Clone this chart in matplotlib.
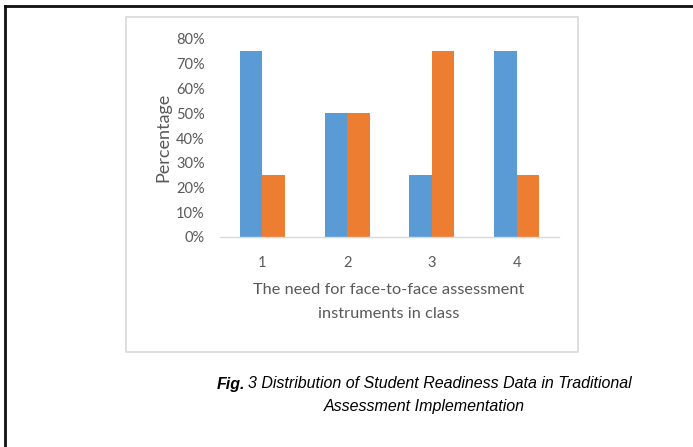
import matplotlib
matplotlib.use("Agg")
import matplotlib.pyplot as plt
from matplotlib.patches import Rectangle
from matplotlib.lines import Line2D
import numpy as np

categories = ["1", "2", "3", "4"]
series_blue = [0.75, 0.50, 0.25, 0.75]
series_orange = [0.25, 0.50, 0.75, 0.25]
yticks = [0, 0.1, 0.2, 0.3, 0.4, 0.5, 0.6, 0.7, 0.8]
ytick_labels = ["0%", "10%", "20%", "30%", "40%", "50%", "60%", "70%", "80%"]

W, H = 693, 447
fig = plt.figure(figsize=(W / 100, H / 100), dpi=100)
fig.patch.set_facecolor("white")

# inner chart box
fig.patches.append(Rectangle((126 / W, 1 - 352 / H), 452 / W, 335 / H,
                             transform=fig.transFigure, fill=False,
                             edgecolor="#d9d9d9", linewidth=1.2))
# outer frame lines
fig.lines.append(Line2D([4.5 / W, 4.5 / W], [0, 1 - 6 / H], transform=fig.transFigure,
                        color="#111111", linewidth=2.0))
fig.lines.append(Line2D([4.5 / W, 1], [1 - 6 / H, 1 - 6 / H], transform=fig.transFigure,
                        color="#111111", linewidth=2.0))

ax = fig.add_axes([220 / W, 1 - 237 / H, (559 - 220) / W, (237 - 39) / H])
x = np.arange(len(categories))
bw = 0.265
ax.bar(x - bw / 2, series_blue, width=bw, color="#5B9BD5")
ax.bar(x + bw / 2, series_orange, width=bw, color="#ED7D31")
ax.set_xlim(-0.5, 3.5)
ax.set_ylim(0, 0.8)
ax.set_yticks(yticks)
ax.set_yticklabels(ytick_labels)
ax.set_xticks(x)
ax.set_xticklabels(categories)
for s in ["top", "left", "right"]:
    ax.spines[s].set_visible(False)
ax.spines["bottom"].set_color("#d9d9d9")
ax.spines["bottom"].set_linewidth(1.0)
ax.tick_params(axis="both", length=0, labelcolor="#595959", labelsize=10.5)
ax.tick_params(axis="y", pad=11)
ax.tick_params(axis="x", pad=14)
for lab in ax.get_xticklabels() + ax.get_yticklabels():
    lab.set_fontfamily("Lato")

fig.text(163 / W, 1 - 137 / H, "Percentage", rotation=90, ha="center", va="center",
         color="#595959", fontsize=13, family="Lato")
fig.text(389 / W, 1 - 290 / H, "The need for face-to-face assessment", ha="center", va="center",
         color="#595959", fontsize=11.8, family="Lato")
fig.text(389 / W, 1 - 314 / H, "instruments in class", ha="center", va="center",
         color="#595959", fontsize=11.8, family="Lato")

# caption
cap_fs = 11.5
t1 = fig.text(0, 0, "Fig.", fontsize=cap_fs, family="Liberation Sans", style="italic",
              weight="bold", color="black")
t2 = fig.text(0, 0, "3 Distribution of Student Readiness Data in Traditional", fontsize=cap_fs,
              family="Liberation Sans", style="italic", color="black")
fig.canvas.draw()
r = fig.canvas.get_renderer()
w1 = t1.get_window_extent(r).width
w2 = t2.get_window_extent(r).width
gap = 3.0
cx = 424.5
x0 = cx - (w1 + gap + w2) / 2
y1 = 1 - 384 / H
t1.set_position((x0 / W, y1))
t1.set_va("center")
t2.set_position(((x0 + w1 + gap) / W, y1))
t2.set_va("center")
fig.text(cx / W, 1 - 406 / H, "Assessment Implementation", ha="center", va="center",
         fontsize=cap_fs, family="Liberation Sans", style="italic", color="black")

fig.savefig("out.png", dpi=100)
